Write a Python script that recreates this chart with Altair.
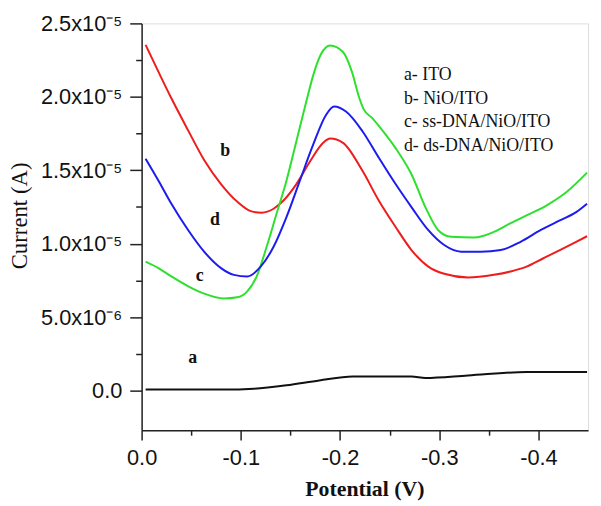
import altair as alt
import pandas as pd

# Potential (V) and current (units of 1e-5 A)
pot_a = [-0.004, -0.083, -0.113, -0.146, -0.179, -0.2126, -0.272, -0.286, -0.329, -0.388, -0.449]
cur_a = [0.007, 0.007, 0.013, 0.036, 0.069, 0.096, 0.096, 0.086, 0.103, 0.126, 0.126]

pot_b = [-0.004, -0.017, -0.030, -0.047, -0.063, -0.080, -0.0965, -0.110, -0.121, -0.133, -0.143,
         -0.156, -0.170, -0.183, -0.190, -0.203, -0.2226, -0.239, -0.256, -0.272, -0.289, -0.305,
         -0.329, -0.355, -0.372, -0.388, -0.405, -0.4216, -0.438, -0.449]
cur_b = [2.354, 2.17, 1.99, 1.770, 1.570, 1.406, 1.285, 1.222, 1.211, 1.238, 1.294,
         1.406, 1.563, 1.687, 1.716, 1.687, 1.496, 1.294, 1.114, 0.957, 0.844, 0.795,
         0.770, 0.788, 0.811, 0.844, 0.901, 0.957, 1.013, 1.051]

pot_c = [-0.004, -0.017, -0.030, -0.047, -0.063, -0.083, -0.0965, -0.1065, -0.116, -0.126, -0.136,
         -0.146, -0.156, -0.166, -0.173, -0.181, -0.190, -0.203, -0.212, -0.2195, -0.2235, -0.2325,
         -0.2435, -0.256, -0.272, -0.286, -0.299, -0.312, -0.335, -0.355, -0.372, -0.388, -0.408,
         -0.428, -0.449]
cur_c = [0.878, 0.834, 0.777, 0.710, 0.660, 0.627, 0.635, 0.676, 0.777, 0.979, 1.204,
         1.429, 1.698, 1.968, 2.148, 2.293, 2.350, 2.305, 2.17, 1.99, 1.92, 1.855,
         1.765, 1.651, 1.473, 1.249, 1.092, 1.047, 1.042, 1.080, 1.140, 1.193, 1.26,
         1.35, 1.484]

pot_d = [-0.004, -0.017, -0.030, -0.047, -0.063, -0.080, -0.093, -0.1065, -0.120, -0.133, -0.146,
         -0.1595, -0.173, -0.186, -0.194, -0.206, -0.2226, -0.239, -0.256, -0.272, -0.289, -0.305,
         -0.322, -0.342, -0.362, -0.382, -0.402, -0.4216, -0.438, -0.449]
cur_d = [1.579, 1.429, 1.272, 1.092, 0.946, 0.834, 0.788, 0.777, 0.844, 0.979, 1.181,
         1.429, 1.676, 1.878, 1.934, 1.90, 1.766, 1.586, 1.406, 1.249, 1.092, 0.991,
         0.946, 0.946, 0.957, 1.013, 1.092, 1.159, 1.215, 1.272]

series_keys = ["a", "b", "c", "d"]
series_colors = ["#111111", "#ee1c1c", "#2ee02e", "#1c1cee"]

legend_lines = ["a- ITO", "b- NiO/ITO", "c- ss-DNA/NiO/ITO", "d- ds-DNA/NiO/ITO"]
legend_y = [2.146, 1.985, 1.826, 1.664]
legend_x = -0.2644

curve_labels = ["a", "b", "c", "d"]
curve_label_x = [-0.0515, -0.0843, -0.0585, -0.0740]
curve_label_y = [0.22, 1.63, 0.78, 1.16]

x_ticks = [0, -0.05, -0.1, -0.15, -0.2, -0.25, -0.3, -0.35, -0.4]
y_ticks = [0, 0.25, 0.5, 0.75, 1.0, 1.25, 1.5, 1.75, 2.0, 2.25, 2.5]

rows = []
for key, xs, ys in zip(series_keys, [pot_a, pot_b, pot_c, pot_d], [cur_a, cur_b, cur_c, cur_d]):
    for x, y in zip(xs, ys):
        rows.append({"series": key, "potential": x, "current": y})
df = pd.DataFrame(rows)

legend_df = pd.DataFrame({"text": legend_lines, "y": legend_y, "x": [legend_x] * 4})
labels_df = pd.DataFrame({"text": curve_labels, "x": curve_label_x, "y": curve_label_y})

x_scale = alt.Scale(domain=[-0.45, 0], reverse=True, nice=False, zero=False)
y_scale = alt.Scale(domain=[-0.27, 2.5], nice=False, zero=False)

x_major = "round(datum.value*20) % 2 == 0"
y_major = "round(datum.value*4) % 2 == 0"

x_axis = alt.Axis(
    values=x_ticks,
    labelExpr="round(datum.value*20) % 2 != 0 ? '' : (datum.value == 0 ? '0.0' : toString(round(datum.value*10)/10))",
    tickSize={"condition": {"test": x_major, "value": 10}, "value": 5},
    labelFont="Liberation Sans", labelFontSize=22, labelColor="#111", labelPadding=8,
    title="Potential (V)", titleFont="Liberation Serif", titleFontSize=22, titleFontWeight="bold",
    titleColor="#111", titleX=225, titleY=59, titleBaseline="middle", titleAlign="center",
    grid=False, domainColor="#222", domainWidth=1.5, tickColor="#222", tickWidth=1.5,
    labelFlush=False, labelOverlap=False,
)
y_axis = alt.Axis(
    values=y_ticks,
    labelExpr="round(datum.value*4) % 2 != 0 ? '' : (datum.value == 0 ? '0.0' : (datum.value < 1 ? format(datum.value*10, '.1f') + 'x10⁻⁶' : format(datum.value, '.1f') + 'x10⁻⁵'))",
    tickSize={"condition": {"test": y_major, "value": 12}, "value": 6},
    labelFont="Liberation Sans", labelFontSize=22, labelColor="#111", labelPadding=8,
    title="Current (A)", titleFont="Liberation Serif", titleFontSize=23, titleFontWeight="normal",
    titleColor="#111", titleX=-123, titleY=194, titleAngle=-90, titleBaseline="middle", titleAlign="center",
    grid=False, domainColor="#222", domainWidth=1.5, tickColor="#222", tickWidth=1.5,
    labelFlush=False, labelOverlap=False,
)

lines = alt.Chart(df).mark_line(strokeWidth=2, interpolate="monotone").encode(
    x=alt.X("potential:Q", scale=x_scale, axis=x_axis),
    y=alt.Y("current:Q", scale=y_scale, axis=y_axis),
    color=alt.Color("series:N", scale=alt.Scale(domain=series_keys, range=series_colors), legend=None),
    detail="series:N",
)

legend_text = alt.Chart(legend_df).mark_text(
    font="Liberation Serif", fontSize=18, align="left", baseline="middle", color="#111"
).encode(x=alt.X("x:Q", scale=x_scale), y=alt.Y("y:Q", scale=y_scale), text="text:N")

curve_text = alt.Chart(labels_df).mark_text(
    font="Liberation Serif", fontSize=18, fontWeight="bold", align="center", baseline="middle", color="#111"
).encode(x=alt.X("x:Q", scale=x_scale), y=alt.Y("y:Q", scale=y_scale), text="text:N")

chart = alt.layer(lines, legend_text, curve_text).properties(
    width=451, height=411,
    autosize=alt.AutoSizeParams(type="none"),
    padding={"left": 135, "top": 13, "right": 5, "bottom": 75},
).configure_view(stroke="#222", strokeWidth=1.5).configure(background="white")

chart.save("out.html", embed_options={"renderer": "svg", "actions": False})
